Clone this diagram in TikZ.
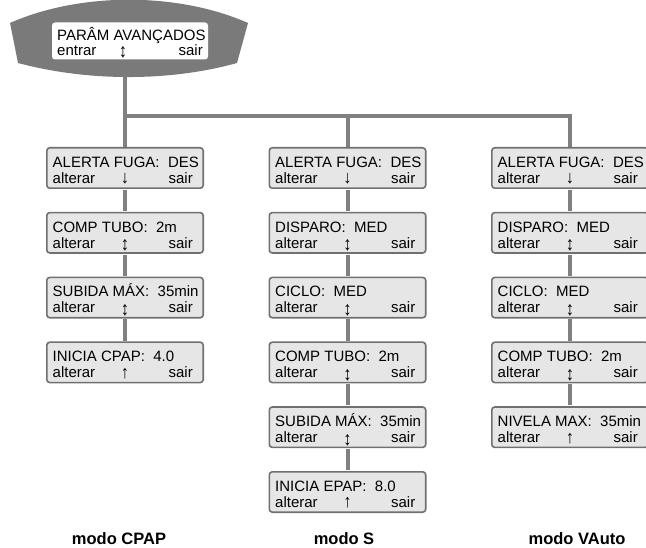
\documentclass[tikz,border=0pt]{standalone}
\usepackage{fontspec}
\usepackage{graphicx}
\setmainfont{Liberation Sans}
\definecolor{wire}{HTML}{808080}
\definecolor{shell}{HTML}{7A7A7A}
\definecolor{panelfill}{HTML}{E6E6E6}
\definecolor{paneledge}{HTML}{707070}
\tikzset{
  wireline/.style={draw=wire, line width=4pt},
  panel/.style={draw=paneledge, fill=panelfill, line width=1.6pt, rounded corners=3pt,
    minimum width=156.4pt, minimum height=40.4pt, inner sep=0pt},
  txt/.style={inner sep=0pt, font=\fontsize{15}{16}\selectfont},
  modelabel/.style={inner sep=0pt, anchor=base, font=\bfseries\fontsize{16.5}{18}\selectfont},
}
% arrow glyphs of the display, stretched to the height of the letters
\newcommand\arrUD{\raisebox{-2.5pt}{\scalebox{1.1}[1.3]{↕}}}
\newcommand\arrD{\raisebox{-0.5pt}{\scalebox{1.1}[1.2]{↓}}}
\newcommand\arrU{\raisebox{-0.5pt}{\scalebox{1.1}[1.2]{↑}}}
% one LCD screen: name, x of centre, y of top, first line, arrow glyph
\newcommand\lcdpanel[5]{%
  \node[panel] (#1) at (#2,#3+21) {};
  \node[txt,anchor=base west] (#1-a) at ([shift={(6.5pt,-20.3pt)}]#1.north west) {#4};
  \node[txt,anchor=base west] (#1-b) at ([shift={(6.5pt,-36.3pt)}]#1.north west) {alterar};
  \node[txt,anchor=base] (#1-c) at ([yshift=-36.3pt]#1.north) {#5};
  \node[txt,anchor=base east] (#1-d) at ([shift={(-11pt,-36.3pt)}]#1.north east) {sair};
}
\begin{document}
\begin{tikzpicture}[x=1pt,y=-1pt]
\useasboundingbox (0,0) rectangle (646,548);
\clip (0,0) rectangle (646,548);

% screen positions
\def\xL{125}\def\xM{347.5}\def\xR{570}
\def\rA{147}\def\rB{211.8}\def\rC{276.6}\def\rD{341.4}\def\rE{406.2}\def\rF{471}

% connectors first, screens drawn on top
\coordinate (trunk) at (\xL,60);
\coordinate (jL) at (\xL,116);
\coordinate (jM) at (\xM,116);
\coordinate (jR) at (\xR,116);
\coordinate (pL1) at (\xL,\rA+21);
\coordinate (pM1) at (\xM,\rA+21);
\coordinate (pR1) at (\xR,\rA+21);

\draw[wireline] (trunk) -- (pL1);
\draw[wireline, line join=miter] (jL) -- (jR) -- (pR1);
\draw[wireline] (jM) -- (pM1);

% title display
\draw[fill=shell, draw=none]
  (10,23) .. controls (80,-8) and (178,-8) .. (248,23)
  -- (237,63) .. controls (170,81.7) and (88,81.7) .. (18,63) -- cycle;
\node[fill=white, rounded corners=3pt, minimum width=156pt, minimum height=37pt, inner sep=0pt]
  (hdr) at (130,41) {};
\node[txt,anchor=base west] (hdr-a) at (57,40.5) {PARÂM AVANÇADOS};
\node[txt,anchor=base west] (hdr-b) at (57,55.5) {entrar};
\node[txt,anchor=base] (hdr-c) at (123,55.5) {\arrUD};
\node[txt,anchor=base east] (hdr-d) at (203,55.5) {sair};

% CPAP column
\lcdpanel{L1}{\xL}{\rA}{ALERTA FUGA:\ \ DES}{\arrD}
\lcdpanel{L2}{\xL}{\rB}{COMP TUBO:\ \ 2m}{\arrUD}
\lcdpanel{L3}{\xL}{\rC}{SUBIDA MÁX:\ \ 35min}{\arrUD}
\lcdpanel{L4}{\xL}{\rD}{INICIA CPAP:\ \ 4.0}{\arrU}

% S column
\lcdpanel{M1}{\xM}{\rA}{ALERTA FUGA:\ \ DES}{\arrD}
\lcdpanel{M2}{\xM}{\rB}{DISPARO:\ \ MED}{\arrUD}
\lcdpanel{M3}{\xM}{\rC}{CICLO:\ \ MED}{\arrUD}
\lcdpanel{M4}{\xM}{\rD}{COMP TUBO:\ \ 2m}{\arrUD}
\lcdpanel{M5}{\xM}{\rE}{SUBIDA MÁX:\ \ 35min}{\arrUD}
\lcdpanel{M6}{\xM}{\rF}{INICIA EPAP:\ \ 8.0}{\arrU}

% VAuto column
\lcdpanel{R1}{\xR}{\rA}{ALERTA FUGA:\ \ DES}{\arrD}
\lcdpanel{R2}{\xR}{\rB}{DISPARO:\ \ MED}{\arrUD}
\lcdpanel{R3}{\xR}{\rC}{CICLO:\ \ MED}{\arrUD}
\lcdpanel{R4}{\xR}{\rD}{COMP TUBO:\ \ 2m}{\arrUD}
\lcdpanel{R5}{\xR}{\rE}{NIVELA MAX:\ \ 35min}{\arrU}

% links between screens
\foreach \a/\b in {L1/L2,L2/L3,L3/L4,M1/M2,M2/M3,M3/M4,M4/M5,M5/M6,R1/R2,R2/R3,R3/R4,R4/R5}
  \draw[wireline, shorten <=0.8pt, shorten >=0.8pt] (\a.south) -- (\b.north);

% mode captions
\node[modelabel] (capL) at (119,544) {modo CPAP};
\node[modelabel] (capM) at (344,544) {modo S};
\node[modelabel] (capR) at (577,544) {modo VAuto};
\end{tikzpicture}
\end{document}
